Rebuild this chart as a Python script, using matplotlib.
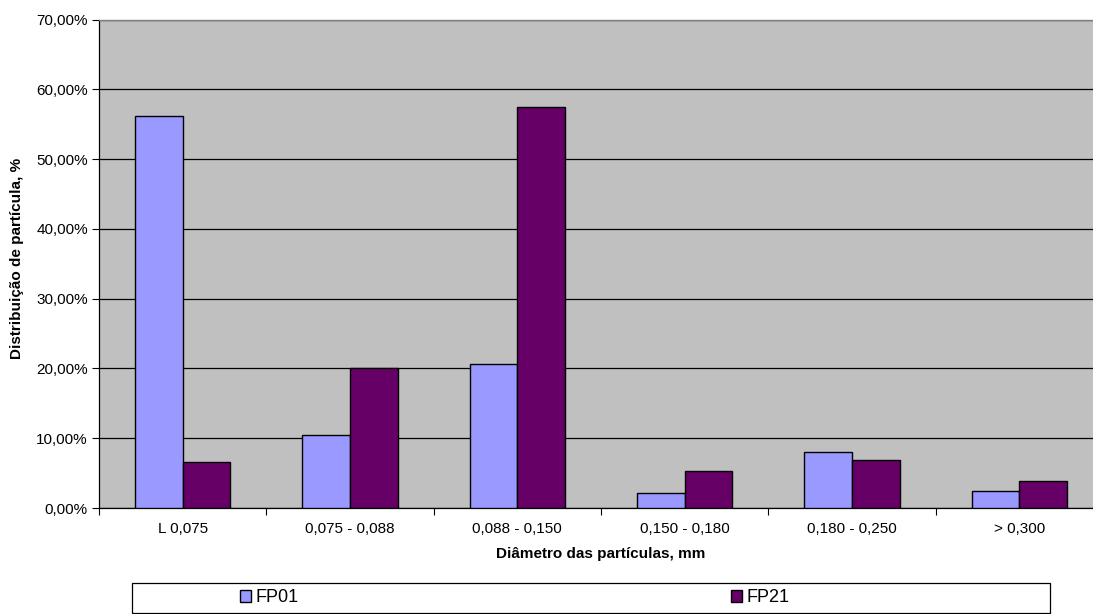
import matplotlib
matplotlib.use("Agg")
import matplotlib.pyplot as plt
import numpy as np
from matplotlib.ticker import FuncFormatter, MultipleLocator
from matplotlib.patches import Rectangle

plt.rcParams['font.family'] = ['Liberation Sans', 'DejaVu Sans']

categories = ["L 0,075", "0,075 - 0,088", "0,088 - 0,150", "0,150 - 0,180", "0,180 - 0,250", "> 0,300"]
fp01 = [56.2, 10.4, 20.6, 2.2, 8.0, 2.5]
fp21 = [6.6, 20.0, 57.5, 5.35, 6.9, 3.8]
series_names = ["FP01", "FP21"]
colors = ["#9999FF", "#660066"]

W, H = 1093, 614
fig = plt.figure(figsize=(W / 100, H / 100), dpi=100)

# plot area runs slightly past the right edge of the canvas
left, right, top, bottom = 99, 1103, 19.5, 508
ax = fig.add_axes([left / W, 1 - bottom / H, (right - left) / W, (bottom - top) / H])
ax.set_facecolor("#C0C0C0")

x = np.arange(len(categories))
w = 1 / 3.5
for i, (vals, name, c) in enumerate(zip([fp01, fp21], series_names, colors)):
    ax.bar(x + (i - 0.5) * w, vals, width=w, color=c, edgecolor="black",
           linewidth=1.0, label=name, zorder=3)

ax.set_xlim(-0.5, len(categories) - 0.5)
ax.set_ylim(0, 70)
ax.yaxis.set_major_locator(MultipleLocator(10))
ax.yaxis.set_major_formatter(FuncFormatter(lambda v, p: f"{v:.2f}%".replace(".", ",")))
ax.grid(axis="y", color="black", linewidth=0.9, zorder=1)
ax.set_axisbelow(True)

ax.set_xticks(x)
ax.set_xticklabels(categories)
ax.tick_params(axis="x", length=0, pad=10, labelsize=11)
ax.set_xticks(np.arange(len(categories) + 1) - 0.5, minor=True)
ax.tick_params(axis="x", which="minor", length=5, direction="out", width=0.8)
ax.tick_params(axis="y", length=5, direction="out", width=0.8, labelsize=11, pad=3)

for s in ["left", "bottom"]:
    ax.spines[s].set_color("black")
    ax.spines[s].set_linewidth(0.9)
for s in ["top", "right"]:
    ax.spines[s].set_color("#808080")
    ax.spines[s].set_linewidth(1.0)

ax.set_xlabel("Diâmetro das partículas, mm", fontsize=11, fontweight="bold", labelpad=8)
fig.text(17 / W, 1 - 258 / H, "Distribuição de partícula, %", rotation=90,
         ha="center", va="center", fontsize=11, fontweight="bold")

# legend box with the two entries placed inside it
fig.patches.append(Rectangle((132 / W, 1 - 613 / H), (1050 - 132) / W, 30 / H,
                             transform=fig.transFigure, facecolor="white",
                             edgecolor="black", linewidth=0.9))
handles, labels = ax.get_legend_handles_labels()
for h, lab, xpos in zip(handles, labels, [240, 731]):
    fig.legend([h], [lab], loc="center left", bbox_to_anchor=(xpos / W, 1 - 598 / H),
               frameon=False, fontsize=13, handlelength=0.6, handleheight=0.6,
               handletextpad=0.25, borderpad=0, borderaxespad=0)

fig.savefig("out.png", dpi=100, facecolor="white")
